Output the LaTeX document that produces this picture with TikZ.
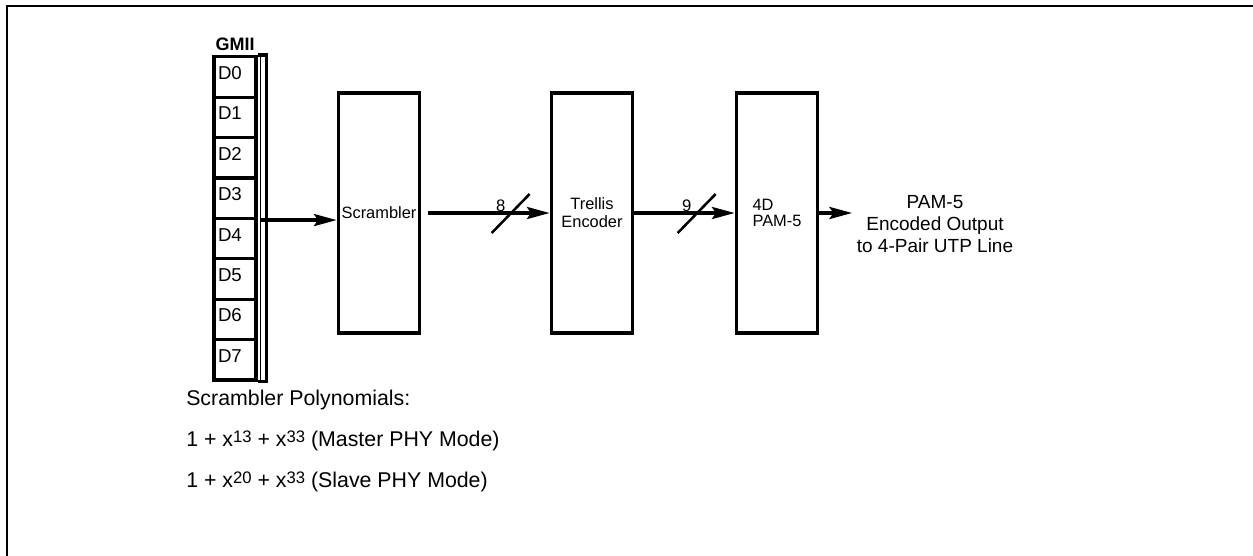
\documentclass[tikz,border=0pt]{standalone}
\usepackage{fontspec}
\setmainfont{Liberation Sans}
\usetikzlibrary{arrows.meta,positioning}
\newcommand{\supnum}[1]{\raisebox{3.5pt}{\fontsize{12.5}{14}\selectfont #1}}
\begin{document}
\begin{tikzpicture}[x=0.75pt,y=-0.75pt,node distance=159.75pt]
\tikzstyle{block}=[draw,line width=2.5pt,minimum width=61pt,minimum height=180pt,inner sep=2pt,align=center,font=\fontsize{12.3}{13.5}\selectfont]
\tikzstyle{cell}=[draw,line width=2.5pt,minimum height=30.3pt,text width=25.5pt,inner xsep=3pt,inner ysep=0pt,text depth=6pt,align=left,font=\fontsize{14}{16}\selectfont]
\tikzstyle{arr}=[line width=2.6pt,-{Stealth[length=17pt,width=9pt,inset=3pt]}]
\tikzstyle{slash}=[line width=1.9pt]
\tikzstyle{num}=[font=\fontsize{12.5}{14}\selectfont]
\tikzstyle{poly}=[anchor=west,inner sep=0pt,font=\fontsize{16}{19}\selectfont]
\useasboundingbox (0,0) rectangle (1253,556);
\draw[line width=1.8pt] (7,556) -- (7,6) -- (1253,6);
% GMII register
\node[cell] (d0) at (235,77) {D0};
\node[cell,below of=d0,node distance=30.3pt] (d1) {D1};
\node[cell,below of=d1,node distance=30.3pt] (d2) {D2};
\node[cell,below of=d2,node distance=30.3pt] (d3) {D3};
\node[cell,below of=d3,node distance=30.3pt] (d4) {D4};
\node[cell,below of=d4,node distance=30.3pt] (d5) {D5};
\node[cell,below of=d5,node distance=30.3pt] (d6) {D6};
\node[cell,below of=d6,node distance=30.3pt] (d7) {D7};
\node[above of=d0,node distance=24.75pt,font=\fontsize{13.5}{15}\selectfont\bfseries] (gmii) {GMII};
\draw[line width=2.5pt] (d0.north east) -- ++(8.5,0) |- (d7.south east);
\draw[line width=1.2pt] ([xshift=2.25pt]d0.north east) -- ([xshift=2.25pt]d7.south east);
% encoder chain
\node[block] (scr) at (379,213) {Scrambler};
\node[block,right of=scr] (trel) {Trellis\\Encoder};
\node[block,right of=trel,node distance=138.75pt,align=left,font=\fontsize{12.3}{11.5}\selectfont] (pam) {4D\\PAM-5};
\node[right of=pam,node distance=118.5pt,yshift=-8.25pt,align=center,font=\fontsize{14.25}{16.5}\selectfont] (out) {PAM-5\\Encoded Output\\to 4-Pair UTP Line};
\draw[arr] ([xshift=2.25pt]d3.south east) -- (d3.south east -| scr.west);
\draw[arr] ([xshift=5.25pt]scr.east) -- (trel.west);
\draw[arr] (trel.east) -- (pam.west);
\draw[arr] (pam.east) -- (pam.east -| out.west);
% bus widths
\coordinate (s8) at ([xshift=-29.25pt]trel.west);
\draw[slash] (s8) ++(-19,20) -- ++(38,-39);
\node[num] (n8) at ([shift={(-10,-7)}]s8) {8};
\coordinate (s9) at ([xshift=-28.5pt]pam.west);
\draw[slash] (s9) ++(-19,20) -- ++(38,-39);
\node[num] (n9) at ([shift={(-10,-7)}]s9) {9};
% polynomials
\node[poly] (ptitle) at (186,400) {Scrambler Polynomials:};
\node[poly] (pmaster) at (186,441) {1 + x\supnum{13} + x\supnum{33} (Master PHY Mode)};
\node[poly] (pslave) at (186,482) {1 + x\supnum{20} + x\supnum{33} (Slave PHY Mode)};
\end{tikzpicture}
\end{document}
